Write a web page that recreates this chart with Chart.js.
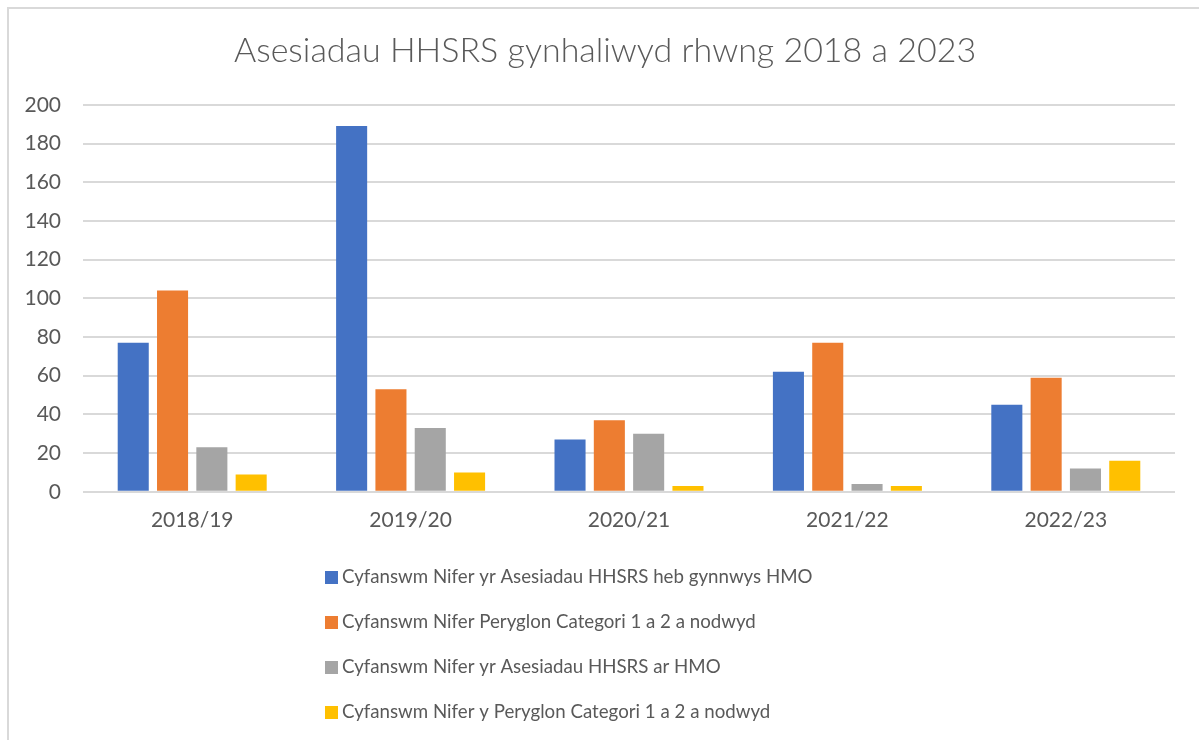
<!DOCTYPE html>
<html>
<head>
<meta charset="utf-8">
<script src="https://cdn.jsdelivr.net/npm/chart.js@4"></script>
<style>
  html, body { margin: 0; padding: 0; overflow: hidden; background: #fff; }
  #frame { position: absolute; left: 7px; top: 7px; width: 1300px; height: 900px; border: 2px solid #d9d9d9; }
  #wrap { position: absolute; left: 0; top: 0; width: 1199px; height: 740px; }
</style>
</head>
<body>
<div id="frame"></div>
<div id="wrap"><canvas id="chart"></canvas></div>
<script>
// Data
const categories = ['2018/19', '2019/20', '2020/21', '2021/22', '2022/23'];
const seriesNames = [
  'Cyfanswm Nifer yr Asesiadau HHSRS heb gynnwys HMO',
  'Cyfanswm Nifer Peryglon Categori 1 a 2 a nodwyd',
  'Cyfanswm Nifer yr Asesiadau HHSRS ar HMO',
  'Cyfanswm Nifer y Peryglon Categori 1 a 2 a nodwyd'
];
const assessNoHmo = [77, 189, 27, 62, 45];
const hazardsNoHmo = [104, 53, 37, 77, 59];
const assessHmo = [23, 33, 30, 4, 12];
const hazardsHmo = [9, 10, 3, 3, 16];
const yTicks = [0, 20, 40, 60, 80, 100, 120, 140, 160, 180, 200];

const colors = ['#4472C4', '#ED7D31', '#A5A5A5', '#FFC000'];
const textColor = '#595959';
const fontFamily = 'Lato, "Liberation Sans", sans-serif';

// Legend stacked vertically under the chart (like the Excel one)
const stackedLegend = {
  id: 'stackedLegend',
  afterLayout(chart) {
    // centre the title on the outer frame, not on the padded box
    chart.titleBlock.left = 35;
  },
  afterDraw(chart) {
    const ctx = chart.ctx;
    const x0 = 325;
    const y0 = 577;
    const step = 45;
    ctx.save();
    ctx.font = '18.7px ' + fontFamily;
    ctx.textBaseline = 'middle';
    chart.data.datasets.forEach((ds, i) => {
      const y = y0 + i * step;
      ctx.fillStyle = ds.backgroundColor;
      ctx.fillRect(x0, y - 6, 13, 13);
      ctx.fillStyle = textColor;
      ctx.fillText(ds.label, x0 + 17, y);
    });
    ctx.restore();
  }
};

const ctx = document.getElementById('chart').getContext('2d');
new Chart(ctx, {
  type: 'bar',
  data: {
    labels: categories,
    datasets: [
      { label: seriesNames[0], data: assessNoHmo, backgroundColor: colors[0] },
      { label: seriesNames[1], data: hazardsNoHmo, backgroundColor: colors[1] },
      { label: seriesNames[2], data: assessHmo, backgroundColor: colors[2] },
      { label: seriesNames[3], data: hazardsHmo, backgroundColor: colors[3] }
    ]
  },
  options: {
    responsive: true,
    maintainAspectRatio: false,
    animation: false,
    categoryPercentage: 0.72,
    barPercentage: 0.79,
    layout: { padding: { left: 0, right: 24, top: 20, bottom: 199 } },
    plugins: {
      legend: { display: false },
      tooltip: { enabled: false },
      title: {
        display: true,
        text: 'Asesiadau HHSRS gynhaliwyd rhwng 2018 a 2023',
        color: textColor,
        font: { family: fontFamily, size: 34, weight: 300 },
        padding: { top: 11, bottom: 33 }
      }
    },
    scales: {
      x: {
        grid: { display: false },
        border: { display: false },
        ticks: { color: textColor, font: { family: fontFamily, size: 21 }, padding: 8, maxRotation: 0 }
      },
      y: {
        min: 0,
        max: 200,
        afterBuildTicks(scale) { scale.ticks = yTicks.map(v => ({ value: v })); },
        afterFit(scale) { scale.width = 83; },
        grid: { color: '#d9d9d9', lineWidth: 2, drawTicks: false },
        border: { display: false },
        ticks: { color: textColor, font: { family: fontFamily, size: 21 }, padding: 22 }
      }
    }
  },
  plugins: [stackedLegend]
});
</script>
</body>
</html>
